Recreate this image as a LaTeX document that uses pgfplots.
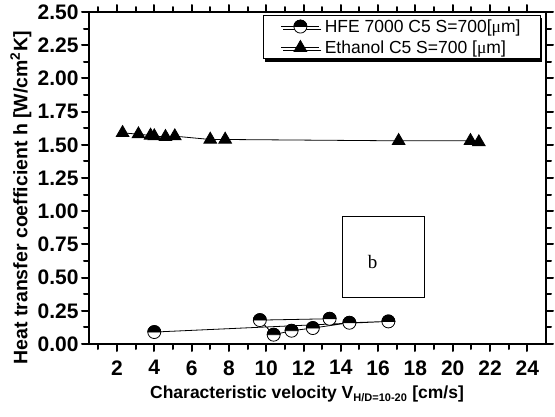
\documentclass[border=0pt]{standalone}
\usepackage{fontspec}
\setmainfont{Liberation Sans}
\newfontfamily\seriffont{Liberation Serif}
\usepackage{pgfplots}
\pgfplotsset{compat=1.18}
\usetikzlibrary{plotmarks,shadows}
\pgfdeclareplotmark{tophalf}{%
  \pgfpathcircle{\pgfpointorigin}{\pgfplotmarksize}%
  \pgfsetfillcolor{white}\pgfusepathqfillstroke
  \pgfpathmoveto{\pgfqpoint{\pgfplotmarksize}{0pt}}%
  \pgfpatharc{0}{180}{\pgfplotmarksize}\pgfpathclose
  \pgfsetfillcolor{black}\pgfusepathqfillstroke}
\begin{document}
\begin{tikzpicture}
\begin{axis}[
  name=ax,
  scale only axis,
  width=457pt, height=332pt,
  xmin=0.5, xmax=25, ymin=0, ymax=2.5,
  xtick={2,4,...,24},
  minor xtick={1,3,...,23},
  ytick={0,0.25,...,2.5},
  minor ytick={0.125,0.375,...,2.375},
  tick align=outside,
  major tick length=7pt,
  minor tick length=5pt,
  every tick/.style={black, line width=2pt, line cap=round},
  axis line style={line width=2.6pt},
  tick label style={font=\fontsize{21}{24}\selectfont\bfseries},
  /pgf/number format/assume math mode=true,
  yticklabel style={/pgf/number format/.cd, fixed, fixed zerofill, precision=2},
  xticklabel style={yshift=-6pt},
  xlabel={\fontsize{17.5}{20}\selectfont\bfseries Characteristic velocity V\textsubscript{\fontsize{11}{12}\selectfont H/D=10-20} [cm/s]},
  ylabel={\fontsize{19.5}{22}\selectfont\bfseries Heat transfer coefficient h [W/cm\textsuperscript{2}K]},
  xlabel style={at={(axis description cs:0.477,-0.152)}, anchor=center},
  ylabel style={at={(axis description cs:-0.149,0.44)}, anchor=center, rotate=0},
  legend style={at={(axis description cs:0.989,0.991)}, anchor=north east,
    draw=black, line width=1pt, font=\fontsize{17.5}{21}\selectfont,
    row sep=3pt, column sep=3pt, inner xsep=18pt, inner ysep=2pt,
    drop shadow={shadow xshift=2pt, shadow yshift=-3pt, fill=black, opacity=1}},
  legend cell align=left,
  legend image code/.code={\draw[mark repeat=2,mark phase=2,#1] plot coordinates {(0pt,0pt) (19pt,0pt) (38pt,0pt)};},
]
\addplot[black, line width=0.8pt, mark=tophalf, mark size=6.5pt,
  mark options={solid, line width=0.8pt}]
  coordinates {
  (4.0,0.09) (16.55,0.17) (14.46,0.16) (12.5,0.12) (11.36,0.10) (10.4,0.07) (9.66,0.18) (13.4,0.19)
};
\addlegendentry{HFE 7000 C5 S=700[{\seriffont μ}m]}
\addplot[black, line width=0.8pt, mark=triangle*, mark size=7.3pt,
  mark options={solid, fill=black}]
  coordinates {
  (2.3,1.59) (3.15,1.58) (3.8,1.57) (4.0,1.565) (4.6,1.56) (5.1,1.565)
  (7.0,1.54) (7.8,1.54) (17.1,1.53) (20.95,1.53) (21.4,1.52)
};
\addlegendentry{Ethanol C5 S=700 [{\seriffont μ}m]}
\draw[line width=1pt] (axis cs:14.1,0.35) rectangle (axis cs:18.5,0.96);
\node[font=\seriffont\fontsize{19}{21}\selectfont] at (axis cs:15.7,0.62) {b};
\end{axis}
\path ([shift={(-89pt,-72pt)}]ax.south west) rectangle ([shift={(466pt,344pt)}]ax.south west);
\end{tikzpicture}
\end{document}
